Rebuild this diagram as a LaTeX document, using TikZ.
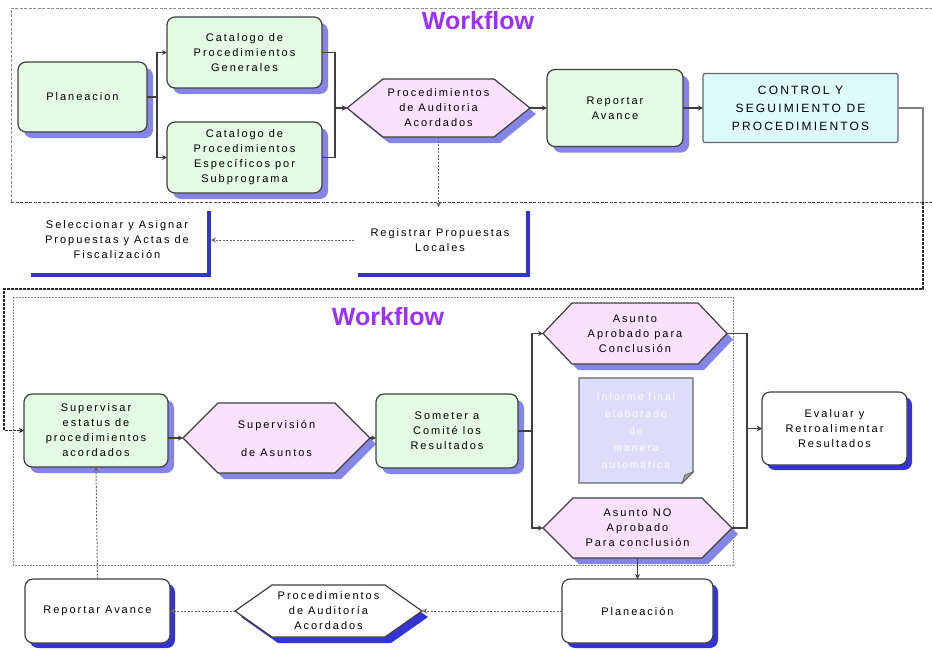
\documentclass[tikz,border=0pt]{standalone}
\usepackage{fontspec}
\setmainfont{Liberation Sans}
\newfontfamily\lbl{Liberation Sans}[LetterSpace=18]
\usetikzlibrary{arrows.meta,shadows,backgrounds}

\definecolor{boxgreen}{HTML}{E3FAE3}
\definecolor{boxpink}{HTML}{FCE1FC}
\definecolor{boxcyan}{HTML}{DDFBFC}
\definecolor{notefill}{HTML}{DCDDFB}
\definecolor{softshadow}{HTML}{8585E8}
\definecolor{deepshadow}{HTML}{3434D4}
\definecolor{edge}{HTML}{3F3F3F}
\definecolor{wfviolet}{HTML}{9B30FF}

% hexagon drawn over the rectangle of a named node: name, chamfer, fill, shadow
\newcommand\hexagonshape[4]{%
  \fill[#4] ([shift={(6,6)}]#1.west) -- ([shift={(#2+6,6)}]#1.north west)
     -- ([shift={(-#2+6,6)}]#1.north east) -- ([shift={(6,6)}]#1.east)
     -- ([shift={(-#2+6,6)}]#1.south east) -- ([shift={(#2+6,6)}]#1.south west) -- cycle;
  \filldraw[hexline, fill=#3] (#1.west) -- ([xshift=#2]#1.north west)
     -- ([xshift=-#2]#1.north east) -- (#1.east)
     -- ([xshift=-#2]#1.south east) -- ([xshift=#2]#1.south west) -- cycle;}

\begin{document}
\begin{tikzpicture}[x=1pt,y=-1pt,
  lab/.style={font=\lbl\fontsize{11}{15}\selectfont, text=black, align=center,
    inner sep=0pt, outer sep=0pt},
  gbox/.style={lab, rounded corners=8pt, draw=edge, line width=1.2pt, fill=boxgreen,
    drop shadow={shadow xshift=6pt, shadow yshift=-6pt, fill=softshadow, opacity=1}},
  wbox/.style={lab, rounded corners=8pt, draw=edge, line width=1.2pt, fill=white,
    drop shadow={shadow xshift=5pt, shadow yshift=-5pt, fill=deepshadow, opacity=1}},
  ghost/.style={lab, fill=white,
    drop shadow={shadow xshift=4pt, shadow yshift=-4pt, fill=deepshadow, opacity=1}},
  cbox/.style={lab, font=\lbl\fontsize{12}{18}\selectfont, rounded corners=2pt,
    draw=black!60, line width=1.2pt, fill=boxcyan},
  hexarea/.style={lab},
  hexline/.style={draw=edge, line width=1.2pt},
  notebox/.style={lab, font=\lbl\fontsize{10.5}{17}\selectfont, text=white},
  title/.style={font=\bfseries\fontsize{25}{25}\selectfont, text=wfviolet},
  frame/.style={draw=black!45, line width=0.9pt, dash pattern=on 3pt off 1.5pt},
  conn/.style={draw=edge, line width=1.2pt, -{Stealth[length=5pt,width=5pt]}},
  dconn/.style={draw=black!60, line width=1pt, dash pattern=on 2pt off 1.5pt,
    -{Stealth[length=5pt,width=5pt]}},
  graylink/.style={draw=black!50, line width=1.2pt},
  loopline/.style={draw=black!85, line width=1.6pt, dash pattern=on 3pt off 1pt,
    -{Stealth[length=5pt,width=5pt]}}]
\useasboundingbox (0,0) rectangle (932,649);

% swimlane frames
\begin{pgfonlayer}{background}
  \draw[frame] (932,8) -- (11,8) -- (11,202);
  \draw[frame, draw=black!70] (11,202) -- (932,202);
  \draw[frame, dash pattern=on 2pt off 1pt] (13,297) rectangle (733,565);
\end{pgfonlayer}

\node[title] (wf1) at (478,21) {Workflow};
\node[title] (wf2) at (388,317) {Workflow};

% upper lane
\node[gbox, minimum width=129, minimum height=70] (plan) at (82.5,97) {Planeacion};
\node[gbox, minimum width=155, minimum height=71] (cat1) at (244.5,52.5)
  {Catalogo de\\Procedimientos\\Generales};
\node[gbox, minimum width=155, minimum height=71] (cat2) at (244.5,157.5)
  {Catalogo de\\Procedimientos\\Específicos por\\Subprograma};
\node[hexarea, minimum width=183, minimum height=58] (proc) at (438.5,108)
  {Procedimientos\\de Auditoria\\Acordados};
\node[gbox, minimum width=136, minimum height=77] (rep) at (615,108) {Reportar\\Avance};
\node[cbox, minimum width=195, minimum height=69] (ctrl) at (800.5,108)
  {CONTROL Y\\SEGUIMIENTO DE\\PROCEDIMIENTOS};

% between the lanes
\node[ghost, minimum width=180, minimum height=66] (sel) at (117,240)
  {Seleccionar y Asignar\\Propuestas y Actas de\\Fiscalización};
\node[ghost, minimum width=172, minimum height=66] (reg) at (440,240)
  {Registrar Propuestas\\Locales};

% lower lane
\node[gbox, minimum width=144, minimum height=73] (sup) at (96,430.5)
  {Supervisar\\estatus de\\procedimientos\\acordados};
\node[hexarea, minimum width=187, minimum height=70] (supa) at (276.5,438)
  {Supervisión\\[13pt]de Asuntos};
\node[gbox, minimum width=142, minimum height=74] (som) at (447,431)
  {Someter a\\Comité los\\Resultados};
\node[hexarea, minimum width=184, minimum height=61] (apr) at (635,333.5)
  {Asunto\\Aprobado para\\Conclusión};
\node[hexarea, minimum width=189, minimum height=60] (nap) at (637.5,528)
  {Asunto NO\\Aprobado\\Para conclusión};
\node[notebox, minimum width=114, minimum height=105] (note) at (636,430.5)
  {Informe final\\elaborado\\de\\manera\\automática};
\node[wbox, minimum width=145, minimum height=73] (eva) at (834.5,428.5)
  {Evaluar y\\Retroalimentar\\Resultados};

% bottom row
\node[wbox, minimum width=145, minimum height=64] (rep2) at (97.5,611) {Reportar Avance};
\node[hexarea, minimum width=187, minimum height=52] (proc2) at (328.5,611)
  {Procedimientos\\de Auditoría\\Acordados};
\node[wbox, minimum width=151, minimum height=64] (plan2) at (637.5,611) {Planeación};

% hexagons and the note sheet, behind their texts
\begin{pgfonlayer}{background}
  \hexagonshape{proc}{36}{boxpink}{softshadow}
  \hexagonshape{supa}{35}{boxpink}{softshadow}
  \hexagonshape{apr}{29}{boxpink}{softshadow}
  \hexagonshape{nap}{30}{boxpink}{softshadow}
  \hexagonshape{proc2}{37}{white}{deepshadow}
  \filldraw[draw=black!60, line width=1.2pt, fill=notefill]
    (note.north west) -- (note.north east) -- ([yshift=11pt]note.south east)
    -- ([xshift=-11pt]note.south east) -- (note.south west) -- cycle;
  \filldraw[draw=black!60, line width=0.8pt, fill=black!35]
    ([yshift=11pt]note.south east) -- ([xshift=-11pt]note.south east)
    -- ([xshift=-8pt,yshift=8pt]note.south east) -- cycle;
\end{pgfonlayer}

% connectors, upper lane
\draw[conn] (plan.east) -- ++(10,0) |- (cat1.west);
\draw[conn] (plan.east) -- ++(10,0) |- (cat2.west);
\draw[conn] (cat1.east) -- ++(13,0) |- (proc.west);
\draw[conn] (cat2.east) -- ++(13,0) |- (proc.west);
\draw[conn] (proc.east) -- (rep.west);
\draw[conn] (rep.east) -- (ctrl.west);
\draw[dconn] (proc.south) -- (proc.south |- reg.north);
\draw[dconn] (reg.west) -- ([xshift=4pt]sel.east);

% hand-over from the upper lane to the lower lane
\coordinate (lpA) at (923,202);
\coordinate (lpB) at (923,289);
\coordinate (lpC) at (4,289);
\draw[graylink] (ctrl.east) -| (lpA);
\draw[loopline] (lpA) -- (lpB) -- (lpC) |- (sup.west);

% connectors, lower lane
\draw[conn] (supa.west -| sup.east) -- (supa.west);
\draw[conn] (supa.east) -- (supa.east -| som.west);
\draw[conn] (som.east) -- ++(14,0) |- (apr.west);
\draw[conn] (som.east) -- ++(14,0) |- (nap.west);
\coordinate (rj) at (747,428.5);
\draw[conn] (apr.east) -| (rj) -- (eva.west);
\draw[conn] (nap.east) -| (rj) -- (eva.west);
\draw[conn] (nap.south) -- (plan2.north);
\draw[dconn] (plan2.west) -- (proc2.east);
\draw[dconn] (proc2.west) -- (rep2.east);
\draw[dconn] (rep2.north) -- (sup.south);
\end{tikzpicture}
\end{document}
